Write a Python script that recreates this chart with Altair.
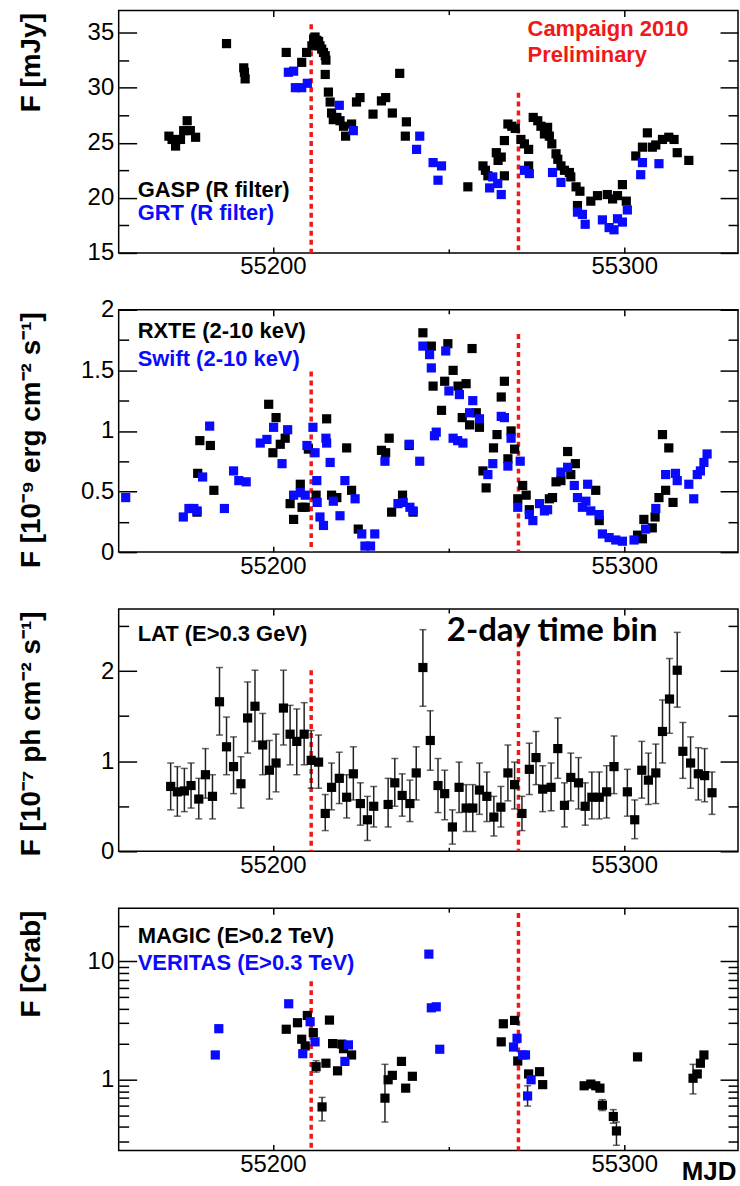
import altair as alt
import pandas as pd

# ---------------- data ----------------
gasp_mjd = [55170.4, 55171.3, 55172.3, 55173.7, 55174.6, 55175.6, 55176.5, 55178.0, 55186.8, 55191.7,
            55191.9, 55192.1, 55203.8, 55208.2, 55209.6, 55211.1, 55211.6, 55212.0, 55212.5, 55213.0,
            55213.4, 55213.9, 55214.4, 55214.9, 55215.1, 55214.9, 55215.8, 55216.3, 55216.7, 55217.2,
            55218.2, 55219.1, 55220.1, 55220.7, 55222.4, 55223.8, 55224.8, 55228.5, 55230.9, 55232.1,
            55234.0, 55236.1, 55237.7, 55238.0, 55255.5, 55259.8, 55260.5, 55261.2, 55263.6, 55264.1,
            55265.0, 55265.9, 55265.9, 55266.9, 55268.0, 55269.0, 55270.6, 55271.6, 55272.8, 55272.8,
            55274.1, 55275.4, 55276.3, 55277.3, 55278.2, 55278.7, 55279.4, 55280.6, 55281.1, 55282.0,
            55283.0, 55284.4, 55284.8, 55286.3, 55286.7, 55287.4, 55290.5, 55292.4, 55295.2, 55296.7,
            55298.1, 55299.5, 55300.6, 55303.3, 55305.2, 55306.6, 55308.0, 55309.0, 55310.9, 55312.7,
            55314.2, 55315.1, 55318.4]
gasp_flux = [25.6, 25.3, 24.7, 25.3, 26.1, 27.0, 26.1, 25.5, 34.0, 31.8,
             31.4, 30.8, 33.2, 32.3, 33.2, 33.8, 34.4, 34.6, 34.3, 34.2,
             33.8, 33.5, 33.2, 32.9, 32.5, 31.2, 29.6, 28.7, 27.7, 27.1,
             27.3, 27.0, 26.5, 25.6, 26.7, 28.7, 29.1, 27.6, 28.8, 29.1,
             27.7, 31.3, 25.6, 26.9, 21.0, 22.9, 22.5, 22.0, 24.1, 23.4,
             23.7, 25.2, 22.0, 26.7, 26.5, 26.3, 25.3, 24.9, 24.4, 22.9,
             27.3, 27.0, 26.5, 25.8, 26.4, 25.6, 24.9, 24.0, 23.5, 22.9,
             22.5, 22.3, 21.9, 21.0, 19.3, 20.6, 19.7, 20.2, 20.3, 19.9,
             20.2, 21.2, 19.7, 23.8, 24.6, 25.9, 24.6, 24.8, 25.3, 25.5,
             25.3, 24.1, 23.4]

grt_mjd = [55204.4, 55205.9, 55206.4, 55208.2, 55209.8, 55218.9, 55222.9, 55240.9, 55241.8, 55245.6,
           55247.0, 55248.0, 55261.7, 55262.6, 55264.0, 55265.0, 55271.6, 55273.0, 55279.6, 55282.0,
           55286.7, 55288.1, 55288.9, 55293.8, 55295.7, 55297.1, 55298.1, 55299.5, 55300.9, 55304.7,
           55305.2, 55309.9]
grt_flux = [31.4, 31.5, 30.0, 30.0, 30.4, 28.4, 26.1, 24.4, 25.6, 23.2,
            21.6, 22.9, 20.9, 21.9, 21.3, 20.3, 22.5, 22.2, 22.3, 21.4,
            18.7, 18.5, 17.6, 18.0, 17.3, 17.1, 18.1, 17.8, 18.9, 22.1,
            23.2, 23.1]

rxte_mjd = [55178.4, 55178.6, 55179.2, 55182.2, 55183.2, 55198.8, 55200.0, 55200.9, 55202.1, 55203.5,
            55204.9, 55205.9, 55207.8, 55208.3, 55209.2, 55210.1, 55212.3, 55215.3, 55216.7, 55218.2,
            55221.0, 55222.4, 55224.3, 55230.9, 55232.1, 55233.1, 55233.8, 55236.9, 55238.8, 55239.9,
            55242.7, 55245.1, 55245.6, 55248.0, 55248.9, 55249.8, 55251.3, 55252.7, 55253.9, 55255.0,
            55256.0, 55256.7, 55257.9, 55258.8, 55259.8, 55260.7, 55262.8, 55263.8, 55265.0, 55265.9,
            55266.9, 55267.8, 55268.8, 55269.7, 55271.1, 55272.1, 55273.0, 55278.7, 55279.6, 55280.6,
            55282.0, 55283.9, 55284.8, 55286.1, 55291.9, 55292.9, 55303.8, 55305.2, 55305.6, 55308.0,
            55308.8, 55309.9, 55310.9, 55311.8, 55312.7, 55313.9]
rxte_flux = [0.33, 0.65, 0.92, 0.88, 0.51, 1.22, 0.82, 1.11, 0.89, 0.94,
             0.40, 0.27, 0.56, 0.37, 0.37, 0.85, 0.47, 1.10, 0.47, 0.45,
             0.86, 0.51, 0.19, 0.84, 0.82, 0.94, 0.33, 0.47, 0.88, 0.33,
             1.81, 1.70, 1.37, 1.17, 1.41, 1.72, 1.50, 1.37, 1.11, 1.39,
             1.05, 1.68, 1.15, 1.03, 0.67, 0.53, 0.86, 0.97, 1.28, 1.41,
             0.77, 1.00, 0.85, 0.44, 0.55, 0.47, 0.35, 0.44, 0.45, 0.58,
             0.59, 0.83, 0.64, 0.73, 0.51, 0.26, 0.14, 0.11, 0.27, 0.20,
             0.29, 0.45, 0.97, 0.51, 0.86, 0.41]

swift_mjd = [55158.1, 55174.5, 55176.1, 55177.5, 55178.4, 55180.0, 55182.0, 55186.2, 55188.8, 55190.3,
             55192.4, 55196.4, 55198.3, 55200.2, 55202.6, 55204.2, 55205.9, 55207.8, 55209.2, 55209.7,
             55211.4, 55212.0, 55212.5, 55212.6, 55213.4, 55214.4, 55215.1, 55215.3, 55216.3, 55217.2,
             55219.1, 55220.5, 55223.4, 55225.3, 55226.2, 55227.8, 55229.0, 55231.9, 55235.6, 55237.1,
             55238.8, 55239.0, 55239.9, 55241.8, 55242.7, 55244.6, 55245.1, 55246.5, 55246.0, 55249.2,
             55250.1, 55251.3, 55252.6, 55253.1, 55254.1, 55256.0, 55256.9, 55258.8, 55261.2, 55262.6,
             55265.0, 55265.9, 55266.9, 55267.8, 55269.7, 55270.4, 55273.0, 55274.0, 55275.9, 55277.3,
             55278.2, 55282.0, 55283.9, 55285.8, 55286.7, 55288.1, 55289.1, 55289.6, 55290.5, 55292.9,
             55293.8, 55295.7, 55297.6, 55299.5, 55302.8, 55306.1, 55309.0, 55311.8, 55314.6, 55315.1,
             55318.4, 55319.8, 55320.8, 55321.7, 55322.7, 55323.6]
swift_flux = [0.45, 0.29, 0.36, 0.36, 0.34, 0.62, 1.04, 0.36, 0.67, 0.59,
              0.58, 0.90, 0.93, 1.03, 0.73, 1.01, 0.47, 0.49, 0.47, 0.88,
              1.03, 0.82, 0.59, 0.41, 0.29, 0.22, 0.94, 0.90, 0.74, 0.42,
              0.30, 0.59, 0.44, 0.15, 0.05, 0.05, 0.15, 0.75, 0.40, 0.41,
              0.89, 0.37, 0.34, 0.75, 1.70, 1.63, 1.52, 0.99, 0.96, 1.66,
              1.33, 0.94, 0.92, 1.30, 0.90, 1.15, 1.25, 1.10, 0.64, 0.73,
              1.12, 1.11, 0.71, 0.94, 0.37, 0.75, 0.31, 0.26, 0.40, 0.34,
              0.35, 0.66, 0.70, 0.55, 0.45, 0.37, 0.42, 0.56, 0.34, 0.31,
              0.15, 0.12, 0.10, 0.09, 0.10, 0.19, 0.36, 0.64, 0.65, 0.59,
              0.56, 0.44, 0.64, 0.67, 0.74, 0.81]

lat_mjd = [55170.9, 55172.8, 55174.8, 55176.7, 55178.9, 55180.8, 55182.8, 55184.8, 55186.8, 55188.8,
           55190.9, 55192.8, 55194.9, 55197.1, 55199.0, 55200.9, 55203.0, 55204.9, 55206.8, 55208.9,
           55210.9, 55213.0, 55214.9, 55216.7, 55218.9, 55221.0, 55222.9, 55224.9, 55226.9, 55228.7,
           55232.8, 55234.7, 55236.8, 55239.0, 55240.8, 55242.7, 55244.8, 55247.0, 55248.9, 55251.1,
           55253.0, 55255.0, 55256.9, 55258.8, 55260.9, 55262.9, 55264.9, 55266.9, 55268.8, 55270.9,
           55273.0, 55274.9, 55276.8, 55279.2, 55281.1, 55283.0, 55284.8, 55287.0, 55288.9, 55290.8,
           55292.9, 55295.0, 55297.1, 55300.9, 55303.0, 55305.0, 55306.9, 55309.0, 55310.9, 55312.9,
           55315.1, 55316.7, 55318.9, 55321.1, 55322.9, 55325.0]
lat_flux = [0.72, 0.66, 0.67, 0.73, 0.58, 0.85, 0.61, 1.66, 1.16, 0.94,
            0.75, 1.48, 1.61, 1.18, 0.90, 0.98, 1.59, 1.30, 1.22, 1.30,
            1.01, 0.99, 0.42, 0.71, 0.81, 0.60, 0.86, 0.53, 0.35, 0.50,
            0.52, 0.76, 0.62, 0.53, 0.87, 2.04, 1.23, 0.73, 0.64, 0.27,
            0.71, 0.48, 0.48, 0.68, 0.61, 0.38, 0.49, 0.87, 0.74, 0.42,
            0.91, 1.04, 0.69, 0.71, 1.14, 0.51, 0.82, 0.76, 0.50, 0.60,
            0.60, 0.66, 0.94, 0.66, 0.35, 0.90, 0.79, 0.87, 1.33, 1.69,
            2.01, 1.11, 0.98, 0.86, 0.84, 0.65]
lat_lo = [0.46, 0.39, 0.44, 0.48, 0.36, 0.59, 0.36, 1.29, 0.85, 0.64,
          0.48, 1.09, 1.22, 0.85, 0.58, 0.66, 1.18, 0.96, 0.85, 0.96,
          0.70, 0.70, 0.23, 0.46, 0.53, 0.37, 0.57, 0.29, 0.12, 0.27,
          0.27, 0.50, 0.39, 0.33, 0.57, 1.61, 0.90, 0.43, 0.35, 0.08,
          0.43, 0.22, 0.22, 0.41, 0.33, 0.17, 0.27, 0.56, 0.47, 0.23,
          0.63, 0.74, 0.44, 0.45, 0.81, 0.27, 0.56, 0.47, 0.29, 0.36,
          0.36, 0.37, 0.64, 0.39, 0.14, 0.59, 0.52, 0.53, 0.98, 1.31,
          1.60, 0.81, 0.70, 0.57, 0.55, 0.41]
lat_hi = [0.98, 0.94, 0.92, 0.98, 0.81, 1.14, 0.85, 2.04, 1.49, 1.27,
          1.05, 1.88, 2.01, 1.53, 1.23, 1.30, 2.01, 1.62, 1.58, 1.65,
          1.34, 1.29, 0.63, 0.98, 1.10, 0.85, 1.16, 0.76, 0.61, 0.72,
          0.81, 1.03, 0.86, 0.79, 1.16, 2.46, 1.56, 1.03, 0.90, 0.46,
          0.99, 0.74, 0.74, 0.98, 0.88, 0.61, 0.72, 1.18, 0.99, 0.61,
          1.20, 1.33, 0.95, 0.98, 1.48, 0.76, 1.09, 1.04, 0.76, 0.88,
          0.88, 0.95, 1.28, 0.91, 0.57, 1.22, 1.09, 1.19, 1.68, 2.14,
          2.43, 1.43, 1.27, 1.15, 1.14, 0.88]

magic_mjd = [55203.8, 55207.0, 55208.2, 55209.2, 55209.8, 55211.5, 55212.3, 55214.0, 55215.1, 55216.1,
             55217.0, 55218.4, 55219.6, 55220.1, 55222.4, 55231.9, 55232.8, 55234.0, 55236.6, 55237.8,
             55239.7, 55265.0, 55265.6, 55268.8, 55269.7, 55272.8, 55275.9, 55276.8, 55288.6, 55290.5,
             55291.9, 55293.1, 55293.8, 55296.9, 55297.8, 55303.8, 55319.6, 55320.8, 55321.7, 55322.7]
magic_flux = [2.67, 3.03, 2.20, 1.93, 3.49, 2.50, 1.29, 0.59, 1.38, 3.19,
              2.02, 1.19, 2.00, 1.83, 1.62, 0.70, 1.00, 1.09, 1.43, 0.85,
              1.07, 2.09, 2.97, 3.17, 1.44, 1.12, 1.17, 0.91, 0.89, 0.92,
              0.89, 0.85, 0.61, 0.49, 0.37, 1.56, 1.03, 1.12, 1.38, 1.62]
magic_err_mjd = [55212.3, 55214.0, 55231.9, 55272.5, 55290.5, 55293.8, 55296.9, 55297.8, 55319.6]
magic_err_lo = [1.16, 0.45, 0.44, 0.60, 0.86, 0.55, 0.43, 0.28, 0.76]
magic_err_hi = [1.45, 0.71, 1.35, 0.89, 0.97, 0.68, 0.56, 0.44, 1.35]

veritas_mjd = [55183.6, 55184.6, 55204.5, 55208.5, 55210.6, 55212.0, 55220.5, 55221.5, 55244.4, 55245.1,
               55246.5, 55247.5, 55268.5, 55269.5, 55271.1, 55271.9, 55272.5, 55273.5]
veritas_flux = [1.62, 2.70, 4.38, 1.66, 3.09, 2.09, 1.43, 1.97, 11.5, 4.05,
                4.13, 1.81, 1.89, 2.24, 1.62, 1.62, 0.73, 1.00]

campaign_mjd = [55210.9, 55269.9]
campaign_top_p1 = [35.75, 29.55]
campaign_top_p2 = [1.49, 1.80]
campaign_top_p3 = [2.01, 2.42]
campaign_top_p4 = [6.8, 25.6]

x_major = [55200, 55300]
x_minor = [55250]

p1_labels = ["GASP (R filter)", "GRT (R filter)", "Campaign 2010", "Preliminary"]
p2_labels = ["RXTE (2-10 keV)", "Swift (2-10 keV)"]
p3_labels = ["LAT (E>0.3 GeV)", "2-day time bin"]
p4_labels = ["MAGIC (E>0.2 TeV)", "VERITAS (E>0.3 TeV)"]
y_titles = ["F [mJy]", "F [10⁻⁹ erg cm⁻² s⁻¹]", "F [10⁻⁷ ph cm⁻² s⁻¹]", "F [Crab]"]
x_title = "MJD"

# ---------------- layout / style ----------------
FONT = "Liberation Sans"
W, H = 621, 243
X_DOMAIN = [55156.1, 55332.4]
BLACK = "#000000"
BLUE = "#0a0aff"
RED = "#f01818"
SQ = 85


def xenc(field="mjd", axis=None):
    return alt.X(f"{field}:Q", scale=alt.Scale(domain=X_DOMAIN, nice=False, zero=False), axis=axis)


def yenc(field, ydom, ytype, axis=None):
    return alt.Y(f"{field}:Q", scale=alt.Scale(domain=ydom, type=ytype, nice=False, zero=False), axis=axis)


TICK = dict(grid=False, domain=False, tickColor=BLACK, tickWidth=1.5)
LABEL = dict(labelFont=FONT, labelFontSize=24, labelColor=BLACK, labelFlush=False, labelOverlap=False)


def axis_layers(df, ydom, ytype, ymaj, ymin, ytitle, with_mjd=False):
    xb = dict(orient="bottom", values=x_major, tickSize=6, offset=-6, format="d", labelPadding=2, **LABEL, **TICK)
    if with_mjd:
        xb.update(title=x_title, titleFont=FONT, titleFontSize=26, titleFontWeight="bold", titleColor=BLACK,
                  titleAngle=0, titleAlign="left", titleBaseline="alphabetic", titleX=564, titleY=35)
    else:
        xb.update(title=None)
    yl = dict(orient="left", values=ymaj, tickSize=18, offset=-18, format="~g", labelPadding=5,
              title=ytitle, titleFont=FONT, titleFontSize=28, titleFontWeight="bold", titleColor=BLACK,
              titleAngle=270, titleAlign="right", titleBaseline="alphabetic", titleX=-97, titleY=2,
              **LABEL, **TICK)
    specs = [
        (alt.Axis(**xb), alt.Axis(**yl)),
        (alt.Axis(orient="bottom", values=x_minor, tickSize=4, offset=-4, labels=False, title=None, **TICK),
         alt.Axis(orient="left", values=ymin, tickSize=10, offset=-10, labels=False, title=None, **TICK)),
        (alt.Axis(orient="top", values=x_major, tickSize=6, offset=-6, labels=False, title=None, **TICK),
         alt.Axis(orient="right", values=ymaj, tickSize=18, offset=-18, labels=False, title=None, **TICK)),
        (alt.Axis(orient="top", values=x_minor, tickSize=4, offset=-4, labels=False, title=None, **TICK),
         alt.Axis(orient="right", values=ymin, tickSize=10, offset=-10, labels=False, title=None, **TICK)),
    ]
    return [alt.Chart(df).mark_point(opacity=0).encode(x=xenc(axis=ax), y=yenc("val", ydom, ytype, ay))
            for ax, ay in specs]


def squares(mjd, val, color, ydom, ytype):
    df = pd.DataFrame({"mjd": mjd, "val": val})
    return alt.Chart(df).mark_square(size=SQ, color=color, opacity=1).encode(
        x=xenc(), y=yenc("val", ydom, ytype))


def campaign_lines(tops, ydom, ytype):
    df = pd.DataFrame({"mjd": campaign_mjd, "top": tops, "bot": [ydom[0]] * len(tops)})
    return alt.Chart(df).mark_rule(color=RED, strokeWidth=3.5, strokeDash=[5, 4]).encode(
        x=xenc(), y=yenc("top", ydom, ytype), y2=alt.Y2("bot:Q"))


def errorbars(mjd, lo, hi, ydom, ytype):
    df = pd.DataFrame({"mjd": mjd, "lo": lo, "hi": hi})
    bar = alt.Chart(df).mark_rule(color="#222222", strokeWidth=1.5).encode(
        x=xenc(), y=yenc("lo", ydom, ytype), y2=alt.Y2("hi:Q"))
    cap_lo = alt.Chart(df).mark_tick(color="#222222", orient="horizontal", size=7, thickness=1.5).encode(
        x=xenc(), y=yenc("lo", ydom, ytype))
    cap_hi = alt.Chart(df).mark_tick(color="#222222", orient="horizontal", size=7, thickness=1.5).encode(
        x=xenc(), y=yenc("hi", ydom, ytype))
    return [bar, cap_lo, cap_hi]


def text(txt, x, y, color, size=22, font=FONT):
    return alt.Chart(pd.DataFrame({"label": [txt]})).mark_text(
        align="left", baseline="alphabetic", font=font, fontSize=size, fontWeight="bold", color=color
    ).encode(x=alt.value(x), y=alt.value(y), text="label:N")


def panel(layers):
    return alt.layer(*layers).resolve_axis(x="independent", y="independent").properties(width=W, height=H)


# ---- panel 1: optical
d1 = [15, 37]
df1 = pd.DataFrame({"mjd": gasp_mjd, "val": gasp_flux})
p1 = panel(
    axis_layers(df1, d1, "linear", [15, 20, 25, 30, 35], [17.5, 22.5, 27.5, 32.5], y_titles[0])
    + [campaign_lines(campaign_top_p1, d1, "linear"),
       squares(gasp_mjd, gasp_flux, BLACK, d1, "linear"),
       squares(grt_mjd, grt_flux, BLUE, d1, "linear"),
       text(p1_labels[0], 19, 187, BLACK),
       text(p1_labels[1], 19, 210, BLUE),
       text(p1_labels[2], 410, 25, RED),
       text(p1_labels[3], 410, 52, RED)]
)

# ---- panel 2: X-ray
d2 = [0, 2.0]
df2 = pd.DataFrame({"mjd": rxte_mjd, "val": rxte_flux})
p2 = panel(
    axis_layers(df2, d2, "linear", [0, 0.5, 1, 1.5, 2], [0.25, 0.75, 1.25, 1.75], y_titles[1])
    + [campaign_lines(campaign_top_p2, d2, "linear"),
       squares(rxte_mjd, rxte_flux, BLACK, d2, "linear"),
       squares(swift_mjd, swift_flux, BLUE, d2, "linear"),
       text(p2_labels[0], 19, 28, BLACK),
       text(p2_labels[1], 19, 56, BLUE)]
)

# ---- panel 3: Fermi-LAT
d3 = [0, 2.69]
df3 = pd.DataFrame({"mjd": lat_mjd, "val": lat_flux})
p3 = panel(
    axis_layers(df3, d3, "linear", [0, 1, 2], [0.5, 1.5, 2.5], y_titles[2])
    + [campaign_lines(campaign_top_p3, d3, "linear")]
    + errorbars(lat_mjd, lat_lo, lat_hi, d3, "linear")
    + [squares(lat_mjd, lat_flux, BLACK, d3, "linear"),
       text(p3_labels[0], 19, 32, BLACK),
       text(p3_labels[1], 329, 32, BLACK, size=33, font="Lato")]
)

# ---- panel 4: VHE
d4 = [0.253, 28.1]
df4 = pd.DataFrame({"mjd": magic_mjd, "val": magic_flux})
p4 = panel(
    axis_layers(df4, d4, "log", [1, 10], [0.3, 0.4, 0.5, 0.6, 0.7, 0.8, 0.9, 2, 3, 4, 5, 6, 7, 8, 9, 20],
                y_titles[3], with_mjd=True)
    + [campaign_lines(campaign_top_p4, d4, "log")]
    + errorbars(magic_err_mjd, magic_err_lo, magic_err_hi, d4, "log")
    + [squares(magic_mjd, magic_flux, BLACK, d4, "log"),
       squares(veritas_mjd, veritas_flux, BLUE, d4, "log"),
       text(p4_labels[0], 19, 35, BLACK),
       text(p4_labels[1], 19, 62, BLUE)]
)

chart = alt.vconcat(p1, p2, p3, p4, spacing=57, bounds="flush").properties(
    padding={"left": 17, "top": 7, "right": 0, "bottom": 0},
    background="white",
).configure_view(stroke=BLACK, strokeWidth=1.5)

chart.save("out.html", embed_options={"renderer": "svg", "actions": False})
